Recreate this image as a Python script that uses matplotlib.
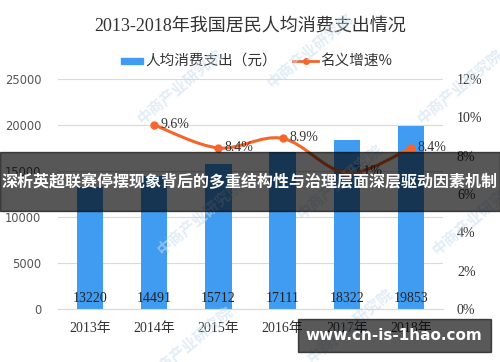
import numpy as np
import matplotlib
matplotlib.use("Agg")
import matplotlib.pyplot as plt
from matplotlib.path import Path
from matplotlib.patches import PathPatch, Rectangle

plt.rcParams['font.family'] = ['Liberation Serif', 'Noto Sans CJK SC', 'DejaVu Sans']

years = ['2013年', '2014年', '2015年', '2016年', '2017年', '2018年']
spending = [13220, 14491, 15712, 17111, 18322, 19853]
growth_years = [1, 2, 3, 4, 5]
growth = [9.6, 8.4, 8.9, 7.1, 8.4]
left_ticks = [0, 5000, 10000, 15000, 20000, 25000]
right_ticks = [0, 2, 4, 6, 8, 10, 12]

blue = '#3f9cf0'
orange = '#f4662b'

fig = plt.figure(figsize=(5, 3.62), dpi=100)
ax = fig.add_axes([0.116, 0.1464, 0.77, 0.6354])
ax2 = ax.twinx()

x = np.arange(len(years))
ax.bar(x, spending, width=0.41, color=blue, zorder=2)
for xi, v in zip(x, spending):
    ax.text(xi, 1150, str(v), ha='center', va='center', fontsize=10, color='#222222', zorder=3)

ax.set_xlim(-0.5, 5.5)
ax.set_ylim(0, 25000)
ax.set_yticks(left_ticks)
ax.set_yticklabels([str(t) for t in left_ticks], family=['DejaVu Sans'], fontsize=8.3, color='#555555')
ax.set_xticks(x)
ax.set_xticklabels(years, fontsize=10, color='#333333')
ax.tick_params(axis='both', length=0)
ax.tick_params(axis='x', pad=9)
ax.tick_params(axis='y', pad=12)
ax.grid(axis='y', color='#d9d9d9', linewidth=0.8, zorder=0)
ax.set_axisbelow(True)
for s in ax.spines.values():
    s.set_visible(False)
ax.spines['bottom'].set_visible(True)
ax.spines['bottom'].set_color('#d9d9d9')

# smooth line (Catmull-Rom as bezier path)
px = np.array(growth_years, dtype=float)
py = np.array(growth, dtype=float)
verts = [(px[0], py[0])]
codes = [Path.MOVETO]
n = len(px)
for i in range(n - 1):
    p0 = (px[max(i - 1, 0)], py[max(i - 1, 0)])
    p1 = (px[i], py[i])
    p2 = (px[i + 1], py[i + 1])
    p3 = (px[min(i + 2, n - 1)], py[min(i + 2, n - 1)])
    c1 = (p1[0] + (p2[0] - p0[0]) / 6, p1[1] + (p2[1] - p0[1]) / 6)
    c2 = (p2[0] - (p3[0] - p1[0]) / 6, p2[1] - (p3[1] - p1[1]) / 6)
    verts += [c1, c2, p2]
    codes += [Path.CURVE4] * 3
ax2.add_patch(PathPatch(Path(verts, codes), facecolor='none', edgecolor=orange, linewidth=2.2, zorder=4))
ax2.plot(px, py, 'o', color=orange, markersize=5, zorder=5)
for xi, g in zip(px, py):
    ax2.text(xi + 0.1, g + 0.05, '%.1f%%' % g, ha='left', va='center', fontsize=10, color='#333333', zorder=5)

ax2.set_ylim(0, 12)
ax2.set_yticks(right_ticks)
ax2.set_yticklabels(['%d%%' % t for t in right_ticks], fontsize=10, color='#333333')
ax2.tick_params(axis='y', length=0, pad=10)
for s in ax2.spines.values():
    s.set_visible(False)

fig.text(0.5, 0.925, '2013-2018年我国居民人均消费支出情况', ha='center', va='center', fontsize=13, color='#333333')

# legend
fig.patches.append(Rectangle((121 / 500, 1 - 64 / 362), 22 / 500, 6 / 362, transform=fig.transFigure, color=blue, figure=fig))
fig.text(145 / 500, 1 - 61 / 362, '人均消费支出（元）', ha='left', va='center', fontsize=10.5, color='#333333', family=['Noto Sans CJK SC'])
fig.add_artist(plt.Line2D([293 / 500, 318 / 500], [1 - 61 / 362] * 2, color=orange, linewidth=2, transform=fig.transFigure))
fig.add_artist(plt.Line2D([305.5 / 500], [1 - 61 / 362], marker='o', markersize=4, color=orange, transform=fig.transFigure))
fig.text(320 / 500, 1 - 61 / 362, '名义增速%', ha='left', va='center', fontsize=10.5, color='#333333', family=['Noto Sans CJK SC'])

# faint watermarks
for wx, wy in [(0.36, 0.76), (0.62, 0.86), (0.92, 0.76), (0.40, 0.40), (0.68, 0.50), (0.95, 0.40), (0.38, 0.05), (0.70, 0.10)]:
    fig.text(wx, wy, '中商产业研究院', rotation=40, ha='center', va='center', fontsize=11, color='#c9def0',
             alpha=0.55, family=['Noto Sans CJK SC'], fontweight='bold', zorder=6)

# overlay banner
fig.patches.append(Rectangle((0, 1 - 211 / 362), 1, 59 / 362, transform=fig.transFigure, color='black', alpha=0.66, figure=fig, zorder=10))
fig.text(0.5, 1 - 182 / 362, '深析英超联赛停摆现象背后的多重结构性与治理层面深层驱动因素机制', ha='center', va='center',
         fontsize=11.5, color='white', fontweight='bold', family=['Noto Sans CJK SC'], zorder=11)
fig.patches.append(Rectangle((298 / 500, 1 - 352 / 362), 193 / 500, 33 / 362, transform=fig.transFigure, color='black', alpha=0.65, figure=fig, zorder=10))
fig.text(394 / 500, 1 - 336 / 362, 'www.cn-is-1hao.com', ha='center', va='center', fontsize=11, color='white',
         fontweight='bold', family=['DejaVu Sans'], zorder=11)

fig.savefig('out.png', dpi=100)
